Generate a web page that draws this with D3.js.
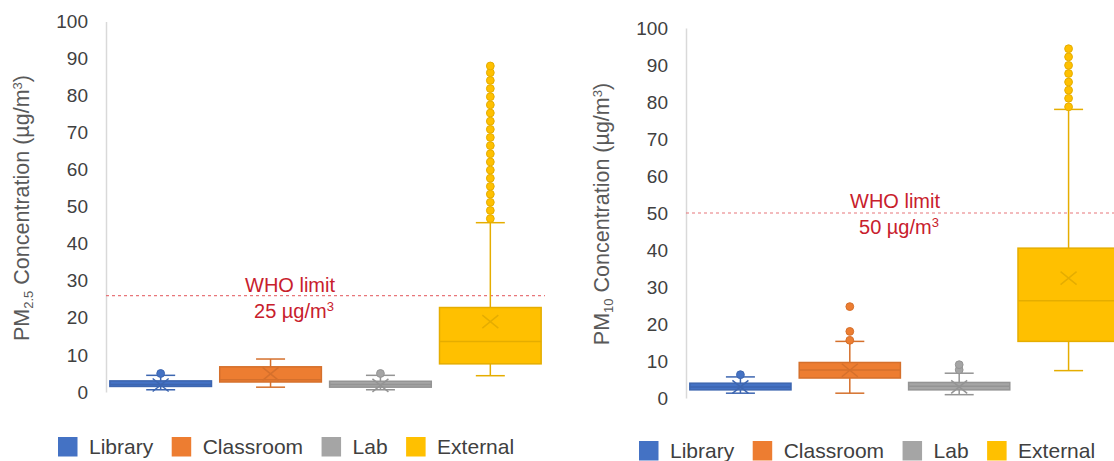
<!DOCTYPE html>
<html>
<head>
<meta charset="utf-8">
<title>PM2.5 and PM10 box plots</title>
<script src="https://d3js.org/d3.v7.min.js"></script>
<style>
  body { margin: 0; background: #fff; }
  svg { display: block; font-family: "Liberation Sans", Arial, sans-serif; }
  .tick text { fill: #404040; font-size: 19px; }
  .axis path { stroke: #d9d9d9; stroke-width: 1.5; }
  .ytitle { fill: #595959; font-size: 21.5px; }
  .who { fill: #c8202c; font-size: 20px; }
  .legend text { fill: #404040; font-size: 21px; }
</style>
</head>
<body>
<svg id="chart" width="1114" height="461"></svg>
<script>
// categories and colours
var categories = ["Library", "Classroom", "Lab", "External"];
var colors = ["#4472C4", "#ED7D31", "#A5A5A5", "#FFC000"];
var yTicks = [0, 10, 20, 30, 40, 50, 60, 70, 80, 90, 100];

// PM2.5 box stats (ug/m3), one value per category
var pm25Low = [0.6, 1.3, 0.6, 4.4];
var pm25Q1 = [1.5, 2.7, 1.3, 7.6];
var pm25Median = [2.0, 3.3, 2.0, 13.6];
var pm25Q3 = [3.0, 6.8, 2.9, 22.8];
var pm25High = [4.5, 8.9, 4.5, 45.7];
var pm25Mean = [1.9, 4.9, 1.8, 19.0];
var pm25Outliers = [[5.0], [], [5.0],
  [46.8, 49.0, 51.2, 53.4, 55.5, 57.7, 59.9, 62.1, 64.3, 66.5,
   68.7, 70.9, 73.1, 75.3, 77.5, 79.7, 81.9, 84.1, 86.2, 88.0]];
var pm25Limit = 26;

// PM10 box stats
var pm10Low = [1.3, 1.3, 0.9, 7.4];
var pm10Q1 = [2.2, 5.4, 2.2, 15.3];
var pm10Median = [3.0, 7.6, 3.2, 26.3];
var pm10Q3 = [4.0, 9.6, 4.2, 40.5];
var pm10High = [5.7, 15.3, 6.7, 78.0];
var pm10Mean = [3.0, 7.5, 3.0, 32.4];
var pm10Outliers = [[6.3], [15.6, 18.0, 24.7], [7.6, 9.0],
  [78.7, 81.0, 83.2, 85.4, 87.7, 89.9, 92.2, 94.4]];
var pm10Limit = 50;

var svg = d3.select("#chart");

function drawPanel(p) {
  var x = d3.scaleBand().domain(categories).range(p.xRange)
    .paddingInner(0.075).paddingOuter(0.035);
  var y = d3.scaleLinear().domain([0, 100]).range(p.yRange);
  var g = svg.append("g");

  // y axis
  g.append("g").attr("class", "axis")
    .attr("transform", "translate(" + p.xRange[0] + ",0)")
    .call(d3.axisLeft(y).tickValues(yTicks).tickSize(0).tickSizeOuter(0).tickPadding(18))
    .call(function(a) { a.selectAll(".tick line").remove(); });

  // y title
  var t = g.append("text").attr("class", "ytitle")
    .attr("text-anchor", "middle")
    .attr("transform", "translate(" + p.titleX + "," + p.titleY + ") rotate(-90)");
  t.append("tspan").text("PM");
  t.append("tspan").attr("baseline-shift", "-4").attr("font-size", "13px").text(p.sub);
  t.append("tspan").text(" Concentration (\u00b5g/m");
  t.append("tspan").attr("baseline-shift", "super").attr("font-size", "13px").text("3");
  t.append("tspan").text(")");

  // WHO limit line
  g.append("line")
    .attr("x1", p.xRange[0]).attr("x2", p.lineEnd)
    .attr("y1", y(p.limit)).attr("y2", y(p.limit))
    .attr("stroke", "#e8767a").attr("stroke-width", 1.2)
    .attr("stroke-dasharray", "3,3");
  g.append("text").attr("class", "who").attr("text-anchor", "middle")
    .attr("x", p.whoX).attr("y", p.whoY).text("WHO limit");
  var w2 = g.append("text").attr("class", "who").attr("text-anchor", "middle")
    .attr("x", p.whoX + 4).attr("y", p.whoY + 26);
  w2.append("tspan").text(p.limitText + " \u00b5g/m");
  w2.append("tspan").attr("baseline-shift", "super").attr("font-size", "13px").text("3");

  categories.forEach(function(c, i) {
    var col = colors[i];
    var dark = d3.color(col).darker(0.3).formatHex();
    var cx = x(c) + x.bandwidth() / 2;
    var cap = 14.5;
    var bg = g.append("g");
    // whiskers
    bg.append("line").attr("x1", cx).attr("x2", cx)
      .attr("y1", y(p.high[i])).attr("y2", y(p.q3[i]))
      .attr("stroke", dark).attr("stroke-width", 1.5);
    bg.append("line").attr("x1", cx).attr("x2", cx)
      .attr("y1", y(p.low[i])).attr("y2", y(p.q1[i]))
      .attr("stroke", dark).attr("stroke-width", 1.5);
    [p.high[i], p.low[i]].forEach(function(v) {
      bg.append("line").attr("x1", cx - cap).attr("x2", cx + cap)
        .attr("y1", y(v)).attr("y2", y(v))
        .attr("stroke", dark).attr("stroke-width", 1.5);
    });
    // box
    bg.append("rect")
      .attr("x", x(c)).attr("width", x.bandwidth())
      .attr("y", y(p.q3[i])).attr("height", y(p.q1[i]) - y(p.q3[i]))
      .attr("fill", col).attr("stroke", dark).attr("stroke-width", 1.5);
    bg.append("line").attr("x1", x(c)).attr("x2", x(c) + x.bandwidth())
      .attr("y1", y(p.median[i])).attr("y2", y(p.median[i]))
      .attr("stroke", dark).attr("stroke-width", 1.5);
    // mean marker
    var my = y(p.mean[i]);
    bg.append("path")
      .attr("d", "M" + (cx - 8) + "," + (my - 6.5) + "L" + (cx + 8) + "," + (my + 6.5) +
        "M" + (cx - 8) + "," + (my + 6.5) + "L" + (cx + 8) + "," + (my - 6.5))
      .attr("stroke", dark).attr("stroke-width", 1.5).attr("fill", "none");
    // outliers
    bg.selectAll("circle").data(p.outliers[i]).enter().append("circle")
      .attr("cx", cx).attr("cy", function(d) { return y(d); })
      .attr("r", 3.9)
      .attr("fill", col).attr("stroke", dark).attr("stroke-width", 1);
  });

  // legend
  var lg = g.append("g").attr("class", "legend");
  var lx = p.legendX;
  categories.forEach(function(c, i) {
    lg.append("rect").attr("x", lx).attr("y", p.legendY)
      .attr("width", 19.5).attr("height", 19.5).attr("fill", colors[i]);
    var tx = lg.append("text").attr("x", lx + 31).attr("y", p.legendY + 17).text(c);
    lx += 31 + tx.node().getComputedTextLength() + 18.5;
  });
}

drawPanel({
  xRange: [106, 545], yRange: [392, 21.5], lineEnd: 545,
  low: pm25Low, q1: pm25Q1, median: pm25Median, q3: pm25Q3, high: pm25High,
  mean: pm25Mean, outliers: pm25Outliers, limit: pm25Limit, limitText: "25",
  sub: "2.5", titleX: 29, titleY: 208, whoX: 290, whoY: 292,
  legendX: 58, legendY: 437
});
drawPanel({
  xRange: [686, 1123], yRange: [398, 28], lineEnd: 1114,
  low: pm10Low, q1: pm10Q1, median: pm10Median, q3: pm10Q3, high: pm10High,
  mean: pm10Mean, outliers: pm10Outliers, limit: pm10Limit, limitText: "50",
  sub: "10", titleX: 609, titleY: 214, whoX: 895, whoY: 208,
  legendX: 639, legendY: 441
});
</script>
</body>
</html>
